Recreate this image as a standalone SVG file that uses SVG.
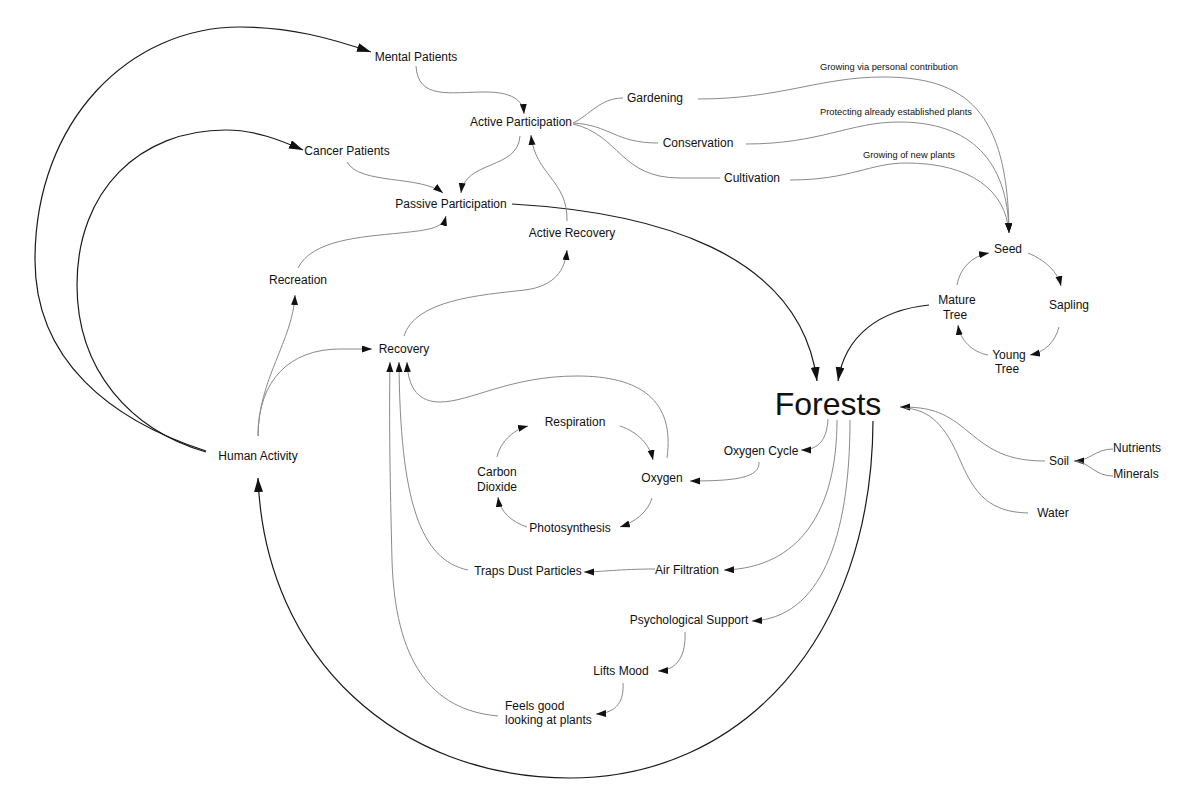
<svg xmlns="http://www.w3.org/2000/svg" width="1200" height="800" viewBox="0 0 1200 800">
<style>
text{font-family:"Liberation Sans",Arial,sans-serif;font-size:12px;fill:#111;text-anchor:middle}
.lbl{font-size:9.3px}
.big{font-size:32px}
.g{fill:none;stroke:#8a8a8a;stroke-width:1}
.b{fill:none;stroke:#1a1a1a;stroke-width:1.2}
.ga{marker-end:url(#ah)}
.ba{marker-end:url(#bh)}
</style>
<defs>
<marker id="ah" markerUnits="userSpaceOnUse" markerWidth="11" markerHeight="8" refX="10" refY="3.5" orient="auto"><path d="M0,0 L10,3.5 L0,7 z" fill="#111"/></marker>
<marker id="bh" markerUnits="userSpaceOnUse" markerWidth="15" markerHeight="10" refX="14" refY="4.5" orient="auto"><path d="M0,0 L14,4.5 L0,9 z" fill="#111"/></marker>
</defs>
<rect width="1200" height="800" fill="#fff"/>
<g id="connectors">
<path class="b ba" d="M206,451 C110,420 35,360 35,260 C35,120 130,27 240,27 C290,27 330,38 371,52"/>
<path class="b ba" d="M206,452 C130,430 77,370 77,285 C77,190 140,130 226,130 C255,130 280,140 303,150"/>
<path class="b ba" d="M512,204 C650,212 800,250 817,381"/>
<path class="b ba" d="M929,305 C880,310 845,335 838,381"/>
<path class="b ba" d="M873,421 C872,640 740,778 570,778 C400,778 265,660 258,478"/>
<path class="g ga" d="M416,66 C418,100 450,92 485,92 C512,92 523,100 524,114"/>
<path class="g ga" d="M347,162 C360,185 420,175 443,193"/>
<path class="g ga" d="M520,136 C518,170 465,160 461,193"/>
<path class="g ga" d="M298,268 C312,240 360,237 400,233 C430,230 443,228 446,216"/>
<path class="g ga" d="M567,221 C568,180 535,175 531,135"/>
<path class="g" d="M573,123 C590,115 600,98 623,98"/>
<path class="g" d="M573,123 C610,125 615,143 658,143"/>
<path class="g" d="M573,124 C620,135 620,178 680,178 L720,178"/>
<path class="g ga" d="M698,99 C780,99 820,77 883,77 C965,77 1008,110 1009,233"/>
<path class="g ga" d="M746,144 C820,144 850,122 899,122 C970,122 1008,160 1009,233"/>
<path class="g ga" d="M790,180 C850,180 870,163 906,163 C970,163 1006,190 1009,233"/>
<text class="lbl" x="889" y="70">Growing via personal contribution</text>
<text class="lbl" x="896" y="115">Protecting already established plants</text>
<text class="lbl" x="909" y="158">Growing of new plants</text>
<path class="g ga" d="M258,436 C258,380 293,340 295,295"/>
<path class="g ga" d="M258,436 C258,380 290,349 340,349 L372,349"/>
<path class="g ga" d="M404,336 C415,300 480,295 525,290 C555,286 565,270 567,250"/>
<path class="g ga" d="M667,458 C675,400 640,376 577,376 C510,376 470,402 440,402 C420,402 408,390 407,362"/>
<path class="g ga" d="M468,570 C420,560 400,500 399,362"/>
<path class="g ga" d="M498,716 C430,710 395,660 392,560 C390,480 389,420 390,362"/>
<path class="g ga" d="M620,426 C638,432 650,445 653,460"/>
<path class="g ga" d="M652,498 C648,512 635,522 620,527"/>
<path class="g ga" d="M527,527 C512,522 500,512 498,497"/>
<path class="g ga" d="M497,457 C500,443 512,430 528,426"/>
<path class="g ga" d="M828,419 C827,438 820,450 801,450"/>
<path class="g ga" d="M759,462 C760,478 735,481 690,481"/>
<path class="g ga" d="M837,420 C837,510 800,568 724,570"/>
<path class="g ga" d="M655,569 C620,569 600,572 584,572"/>
<path class="g ga" d="M850,420 C850,540 820,618 752,621"/>
<path class="g ga" d="M685,632 C686,655 678,670 658,671"/>
<path class="g ga" d="M623,683 C624,700 618,713 596,714"/>
<path class="g ga" d="M1028,253 C1045,260 1058,272 1061,286"/>
<path class="g ga" d="M1059,327 C1055,342 1045,352 1030,355"/>
<path class="g ga" d="M988,355 C972,352 960,340 958,325"/>
<path class="g ga" d="M957,285 C960,268 972,256 989,253"/>
<path class="g ga" d="M1045,461 C1000,461 985,445 960,425 C940,410 925,407 900,407"/>
<path class="g" d="M1028,513 C990,512 975,495 960,460 C945,425 930,410 905,408"/>
<path class="g ga" d="M1113,449 C1095,449 1090,461 1074,461"/>
<path class="g" d="M1113,476 C1095,476 1090,463 1076,461"/>
</g>
<g id="mental-patients"><text x="416" y="61">Mental Patients</text></g>
<g id="active-participation"><text x="521" y="126">Active Participation</text></g>
<g id="gardening"><text x="655" y="102">Gardening</text></g>
<g id="conservation"><text x="698" y="147">Conservation</text></g>
<g id="cultivation"><text x="752" y="182">Cultivation</text></g>
<g id="cancer-patients"><text x="347" y="155">Cancer Patients</text></g>
<g id="passive-participation"><text x="451" y="208">Passive Participation</text></g>
<g id="active-recovery"><text x="572" y="237">Active Recovery</text></g>
<g id="recreation"><text x="298" y="284">Recreation</text></g>
<g id="recovery"><text x="404" y="353">Recovery</text></g>
<g id="human-activity"><text x="258" y="460">Human Activity</text></g>
<g id="respiration"><text x="575" y="426">Respiration</text></g>
<g id="carbon-dioxide"><text x="497" y="476">Carbon</text><text x="497" y="491">Dioxide</text></g>
<g id="oxygen"><text x="662" y="482">Oxygen</text></g>
<g id="photosynthesis"><text x="570" y="532">Photosynthesis</text></g>
<g id="oxygen-cycle"><text x="761" y="455">Oxygen Cycle</text></g>
<g id="forests"><text class="big" x="828" y="415">Forests</text></g>
<g id="seed"><text x="1008" y="253">Seed</text></g>
<g id="sapling"><text x="1069" y="309">Sapling</text></g>
<g id="mature-tree"><text x="957" y="304">Mature</text><text x="955" y="319">Tree</text></g>
<g id="young-tree"><text x="1009" y="359">Young</text><text x="1007" y="373">Tree</text></g>
<g id="soil"><text x="1059" y="465">Soil</text></g>
<g id="nutrients"><text x="1137" y="452">Nutrients</text></g>
<g id="minerals"><text x="1136" y="478">Minerals</text></g>
<g id="water"><text x="1053" y="517">Water</text></g>
<g id="traps-dust"><text x="528" y="575">Traps Dust Particles</text></g>
<g id="air-filtration"><text x="687" y="574">Air Filtration</text></g>
<g id="psychological-support"><text x="689" y="624">Psychological Support</text></g>
<g id="lifts-mood"><text x="621" y="675">Lifts Mood</text></g>
<g id="feels-good"><text x="505" y="710" style="text-anchor:start">Feels good</text><text x="505" y="724" style="text-anchor:start">looking at plants</text></g>
</svg>
